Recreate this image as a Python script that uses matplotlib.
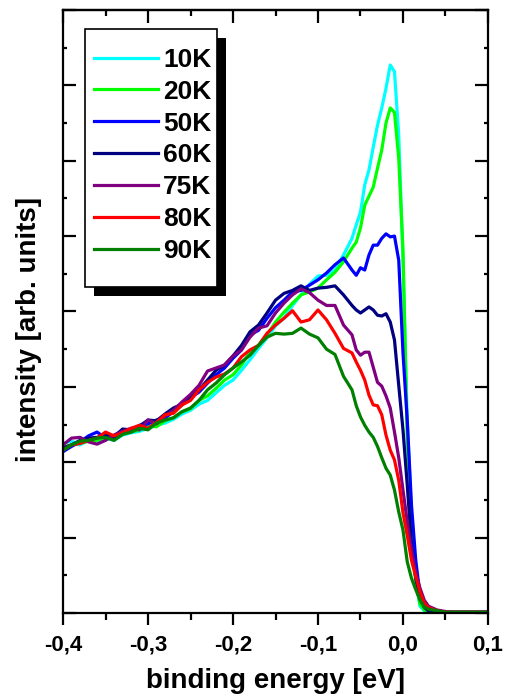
import matplotlib
matplotlib.use('Agg')
import matplotlib.pyplot as plt
from matplotlib.patches import Rectangle
from matplotlib.ticker import MultipleLocator, FuncFormatter

plt.rcParams['font.family'] = ['Liberation Sans', 'DejaVu Sans']
plt.rcParams['font.weight'] = 'bold'

# binding energy grid [eV]
energy = [-0.40, -0.39, -0.38, -0.37, -0.36, -0.35, -0.34, -0.33, -0.32, -0.31,
          -0.30, -0.29, -0.28, -0.27, -0.26, -0.25, -0.24, -0.23, -0.22, -0.21,
          -0.20, -0.19, -0.18, -0.17, -0.16, -0.15, -0.14, -0.13, -0.12, -0.11,
          -0.10, -0.09, -0.08, -0.07, -0.06, -0.055, -0.05, -0.045, -0.04, -0.035,
          -0.03, -0.025, -0.02, -0.015, -0.01, -0.005, 0.0, 0.005, 0.01, 0.015,
          0.02, 0.025, 0.03, 0.04, 0.05, 0.06, 0.08, 0.10]

labels = ['10K', '20K', '50K', '60K', '75K', '80K', '90K']
colors = ['#00FFFF', '#00FF00', '#0000FF', '#000080', '#800080', '#FF0000', '#008000']

i_10K = [2.25, 2.28, 2.23, 2.29, 2.27, 2.32, 2.29, 2.36, 2.39, 2.41,
         2.45, 2.49, 2.52, 2.57, 2.64, 2.69, 2.77, 2.82, 2.92, 3.02,
         3.09, 3.22, 3.36, 3.51, 3.65, 3.81, 3.91, 4.08, 4.22, 4.36,
         4.47, 4.48, 4.55, 4.75, 4.97, 5.15, 5.32, 5.68, 5.88, 6.18,
         6.47, 6.70, 6.96, 7.27, 7.18, 6.34, 4.68, 2.56, 1.30, 0.44,
         0.09, 0.03, 0.01, 0.01, 0.01, 0.01, 0.01, 0.01]
i_20K = [2.20, 2.23, 2.25, 2.28, 2.29, 2.33, 2.32, 2.37, 2.40, 2.43,
         2.48, 2.47, 2.55, 2.59, 2.67, 2.71, 2.82, 2.88, 2.98, 3.09,
         3.16, 3.29, 3.46, 3.55, 3.69, 3.86, 3.99, 4.11, 4.22, 4.26,
         4.31, 4.42, 4.52, 4.66, 4.84, 4.92, 5.11, 5.41, 5.53, 5.65,
         5.90, 6.14, 6.50, 6.70, 6.64, 6.03, 4.81, 2.29, 1.17, 0.41,
         0.12, 0.04, 0.02, 0.01, 0.01, 0.01, 0.01, 0.01]
i_50K = [2.14, 2.21, 2.27, 2.35, 2.40, 2.32, 2.35, 2.43, 2.40, 2.49,
         2.51, 2.56, 2.59, 2.67, 2.76, 2.86, 2.93, 3.05, 3.16, 3.25,
         3.38, 3.49, 3.69, 3.75, 3.91, 4.05, 4.15, 4.26, 4.28, 4.35,
         4.42, 4.51, 4.62, 4.71, 4.55, 4.48, 4.58, 4.55, 4.75, 4.88,
         4.88, 4.97, 5.03, 4.99, 5.00, 4.68, 3.45, 2.56, 1.43, 0.70,
         0.24, 0.08, 0.03, 0.02, 0.01, 0.01, 0.01, 0.01]
i_60K = [2.19, 2.23, 2.29, 2.32, 2.33, 2.36, 2.33, 2.44, 2.43, 2.48,
         2.56, 2.55, 2.64, 2.72, 2.77, 2.88, 2.96, 3.09, 3.22, 3.29,
         3.41, 3.55, 3.73, 3.82, 3.98, 4.15, 4.24, 4.28, 4.34, 4.28,
         4.31, 4.32, 4.34, 4.22, 4.08, 4.02, 3.98, 4.02, 4.06, 4.02,
         3.95, 3.94, 3.97, 3.86, 3.62, 3.02, 2.43, 1.70, 0.90, 0.46,
         0.20, 0.08, 0.03, 0.01, 0.01, 0.01, 0.01, 0.01]
i_75K = [2.23, 2.32, 2.33, 2.27, 2.24, 2.29, 2.36, 2.41, 2.45, 2.43,
         2.56, 2.51, 2.61, 2.69, 2.80, 2.90, 3.02, 3.21, 3.25, 3.29,
         3.41, 3.49, 3.66, 3.78, 3.81, 3.98, 4.11, 4.22, 4.30, 4.25,
         4.15, 4.08, 4.08, 3.82, 3.69, 3.49, 3.42, 3.46, 3.46, 3.26,
         3.06, 3.01, 2.88, 2.72, 2.40, 2.06, 1.63, 1.21, 0.84, 0.54,
         0.33, 0.17, 0.09, 0.04, 0.02, 0.01, 0.01, 0.01]
i_80K = [2.16, 2.23, 2.25, 2.29, 2.32, 2.40, 2.35, 2.39, 2.45, 2.49,
         2.45, 2.53, 2.63, 2.65, 2.76, 2.82, 2.96, 3.06, 3.13, 3.17,
         3.25, 3.40, 3.49, 3.55, 3.71, 3.82, 3.91, 4.01, 3.86, 3.89,
         4.02, 3.89, 3.71, 3.51, 3.45, 3.33, 3.22, 3.09, 2.89, 2.76,
         2.75, 2.63, 2.36, 2.16, 2.03, 1.76, 1.33, 1.03, 0.70, 0.48,
         0.28, 0.13, 0.07, 0.03, 0.01, 0.01, 0.01, 0.01]
i_90K = [2.16, 2.23, 2.28, 2.29, 2.32, 2.33, 2.29, 2.37, 2.40, 2.45,
         2.43, 2.52, 2.56, 2.59, 2.67, 2.72, 2.82, 2.96, 3.05, 3.16,
         3.25, 3.33, 3.42, 3.55, 3.66, 3.71, 3.70, 3.71, 3.78, 3.70,
         3.65, 3.50, 3.43, 3.14, 2.96, 2.75, 2.60, 2.49, 2.40, 2.33,
         2.21, 2.06, 1.92, 1.83, 1.63, 1.34, 1.10, 0.68, 0.46, 0.31,
         0.17, 0.08, 0.05, 0.03, 0.01, 0.01, 0.01, 0.01]

series = [i_10K, i_20K, i_50K, i_60K, i_75K, i_80K, i_90K]

fig = plt.figure(figsize=(5.05, 6.98), dpi=100)
ax = fig.add_axes([0.1248, 0.1218, 0.8415, 0.8639])

for y, c, lab in zip(series, colors, labels):
    ax.plot(energy, y, color=c, lw=2.3, label=lab)

ax.set_xlim(-0.4, 0.1)
ax.set_ylim(0, 8)

ax.xaxis.set_major_locator(MultipleLocator(0.1))
ax.xaxis.set_minor_locator(MultipleLocator(0.05))
ax.yaxis.set_major_locator(MultipleLocator(1))
ax.yaxis.set_minor_locator(MultipleLocator(0.5))

def comma(v, pos):
    s = f'{v:.1f}'
    if s == '-0.0':
        s = '0.0'
    return s.replace('.', ',')

ax.xaxis.set_major_formatter(FuncFormatter(comma))
ax.set_yticklabels([])

for sp in ax.spines.values():
    sp.set_linewidth(1.6)

ax.tick_params(axis='x', which='both', direction='out', bottom=True, top=False,
               width=1.6, labelsize=16, pad=7)
ax.tick_params(axis='x', which='major', length=8.5)
ax.tick_params(axis='x', which='minor', length=5)
ax.tick_params(axis='y', which='both', direction='in', left=True, right=True,
               width=1.6, labelleft=False)
ax.tick_params(axis='y', which='major', length=9.5)
ax.tick_params(axis='y', which='minor', length=3)

top = ax.secondary_xaxis('top')
top.xaxis.set_major_locator(MultipleLocator(0.1))
top.xaxis.set_minor_locator(MultipleLocator(0.05))
top.tick_params(which='both', direction='in', width=1.6, labeltop=False)
top.tick_params(which='major', length=9)
top.tick_params(which='minor', length=4.5)
top.spines['top'].set_linewidth(1.6)

ax.set_xlabel('binding energy [eV]', fontsize=20, fontweight='bold', labelpad=9)
ax.set_ylabel('intensity [arb. units]', fontsize=20, fontweight='bold')
ax.yaxis.set_label_coords(-0.05, 0.47)

# legend box with hard black shadow
ax.add_patch(Rectangle((0.0730, 0.5257), 0.3106, 0.4279, transform=ax.transAxes,
                       facecolor='black', edgecolor='none', zorder=4.8, clip_on=False))
ax.add_patch(Rectangle((0.0518, 0.5406), 0.3106, 0.4279, transform=ax.transAxes,
                       facecolor='white', edgecolor='black', lw=1.2, zorder=4.9,
                       clip_on=False))

leg = ax.legend(loc='upper left', bbox_to_anchor=(0.0306, 0.968), fontsize=19,
                frameon=False, borderaxespad=0,
                handlelength=2.4, handletextpad=0.2, labelspacing=0.3,
                borderpad=0.7)
leg.set_zorder(5)
for t in leg.get_texts():
    t.set_fontweight('bold')
for h in leg.get_lines():
    h.set_linewidth(2.3)

fig.savefig('out.png', dpi=100)
